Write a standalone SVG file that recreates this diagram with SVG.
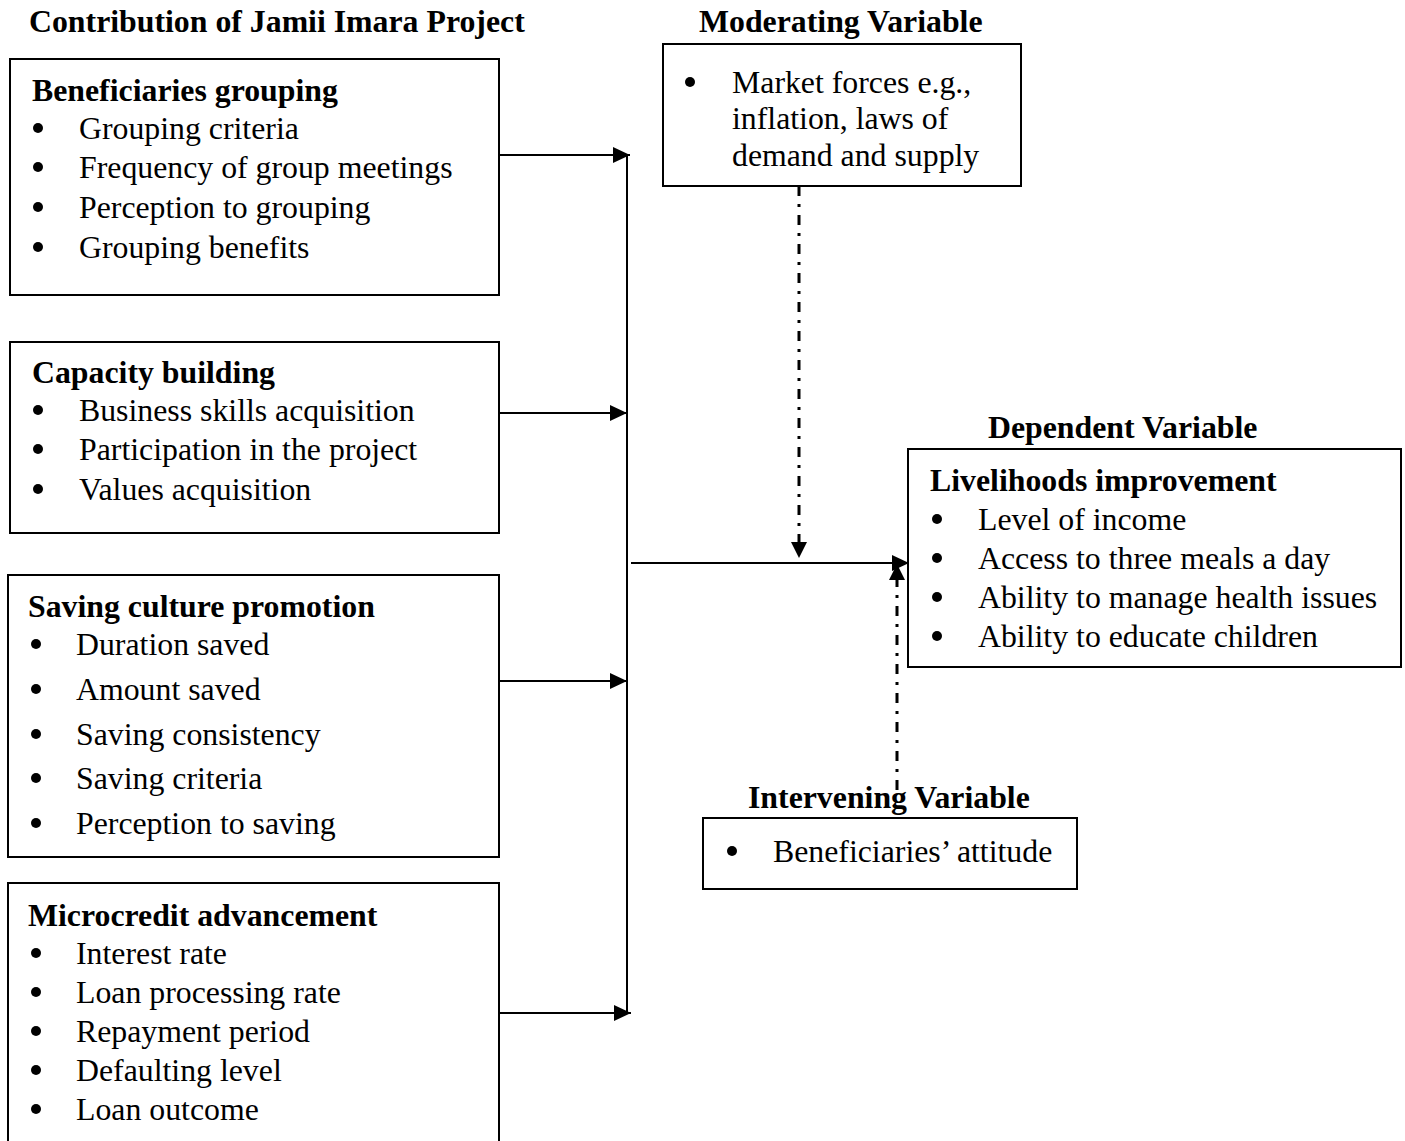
<svg xmlns="http://www.w3.org/2000/svg" width="1405" height="1141" viewBox="0 0 1405 1141">
<style>
text{font-family:"Liberation Serif","Times New Roman",serif;font-size:31.8px;fill:#000}
.b{font-weight:bold}
.box{fill:#fff;stroke:#000;stroke-width:2}
.ln{stroke:#000;stroke-width:2;fill:none}
.dd{stroke:#000;stroke-width:3;fill:none;stroke-dasharray:10 8 3 8}
</style>
<defs>
<marker id="ah2" viewBox="0 0 10 10" refX="10" refY="5" markerWidth="17" markerHeight="16" markerUnits="userSpaceOnUse" orient="auto" preserveAspectRatio="none">
<path d="M0,0 L10,5 L0,10 z" fill="#000"/>
</marker>
<circle id="bul" r="5" fill="#000"/>
</defs>
<rect width="1405" height="1141" fill="#fff"/>

<g id="headers">
<text class="b" x="29" y="32">Contribution of Jamii Imara Project</text>
<text class="b" x="699" y="32">Moderating Variable</text>
<text class="b" x="988" y="438">Dependent Variable</text>
</g>

<g id="connectors">
<line class="ln" x1="627" y1="155" x2="627" y2="1013"/>
<line class="ln" x1="499" y1="155" x2="630" y2="155" marker-end="url(#ah2)"/>
<line class="ln" x1="499" y1="413" x2="627" y2="413" marker-end="url(#ah2)"/>
<line class="ln" x1="499" y1="681" x2="627" y2="681" marker-end="url(#ah2)"/>
<line class="ln" x1="497" y1="1013" x2="631" y2="1013" marker-end="url(#ah2)"/>
<line class="ln" x1="631" y1="563" x2="909" y2="563" marker-end="url(#ah2)"/>
<line class="dd" x1="799" y1="186" x2="799" y2="544"/>
<path d="M791,542 L807,542 L799,558 z" fill="#000"/>
<line class="dd" x1="897" y1="790" x2="897" y2="580"/>
<path d="M889,580 L905,580 L897,564 z" fill="#000"/>
</g>

<g id="node-grouping">
<rect class="box" x="10" y="59" width="489" height="236"/>
<text class="b" x="32" y="101">Beneficiaries grouping</text>
<use href="#bul" x="38" y="128"/><text x="79" y="139">Grouping criteria</text>
<use href="#bul" x="38" y="167"/><text x="79" y="178">Frequency of group meetings</text>
<use href="#bul" x="38" y="207"/><text x="79" y="218">Perception to grouping</text>
<use href="#bul" x="38" y="247"/><text x="79" y="258">Grouping benefits</text>
</g>

<g id="node-capacity">
<rect class="box" x="10" y="342" width="489" height="191"/>
<text class="b" x="32" y="383">Capacity building</text>
<use href="#bul" x="38" y="410"/><text x="79" y="421">Business skills acquisition</text>
<use href="#bul" x="38" y="449"/><text x="79" y="460">Participation in the project</text>
<use href="#bul" x="38" y="489"/><text x="79" y="500">Values acquisition</text>
</g>

<g id="node-saving">
<rect class="box" x="8" y="575" width="491" height="282"/>
<text class="b" x="28" y="617">Saving culture promotion</text>
<use href="#bul" x="36" y="644"/><text x="76" y="655">Duration saved</text>
<use href="#bul" x="36" y="689"/><text x="76" y="700">Amount saved</text>
<use href="#bul" x="36" y="734"/><text x="76" y="745">Saving consistency</text>
<use href="#bul" x="36" y="778"/><text x="76" y="789">Saving criteria</text>
<use href="#bul" x="36" y="823"/><text x="76" y="834">Perception to saving</text>
</g>

<g id="node-microcredit">
<rect class="box" x="8" y="883" width="491" height="270"/>
<text class="b" x="28" y="926">Microcredit advancement</text>
<use href="#bul" x="36" y="953"/><text x="76" y="964">Interest rate</text>
<use href="#bul" x="36" y="992"/><text x="76" y="1003">Loan processing rate</text>
<use href="#bul" x="36" y="1031"/><text x="76" y="1042">Repayment period</text>
<use href="#bul" x="36" y="1070"/><text x="76" y="1081">Defaulting level</text>
<use href="#bul" x="36" y="1109"/><text x="76" y="1120">Loan outcome</text>
</g>

<g id="node-moderating">
<rect class="box" x="663" y="44" width="358" height="142"/>
<use href="#bul" x="690" y="82"/><text x="732" y="93">Market forces e.g.,</text>
<text x="732" y="129">inflation, laws of</text>
<text x="732" y="166">demand and supply</text>
</g>

<g id="node-dependent">
<rect class="box" x="908" y="449" width="493" height="218"/>
<text class="b" x="930" y="491">Livelihoods improvement</text>
<use href="#bul" x="937" y="519"/><text x="978" y="530">Level of income</text>
<use href="#bul" x="937" y="558"/><text x="978" y="569">Access to three meals a day</text>
<use href="#bul" x="937" y="597"/><text x="978" y="608">Ability to manage health issues</text>
<use href="#bul" x="937" y="636"/><text x="978" y="647">Ability to educate children</text>
</g>

<g id="node-intervening">
<text class="b" x="748" y="808">Intervening Variable</text>
<rect class="box" x="703" y="818" width="374" height="71"/>
<use href="#bul" x="732" y="851"/><text x="773" y="862">Beneficiaries’ attitude</text>
</g>
</svg>
